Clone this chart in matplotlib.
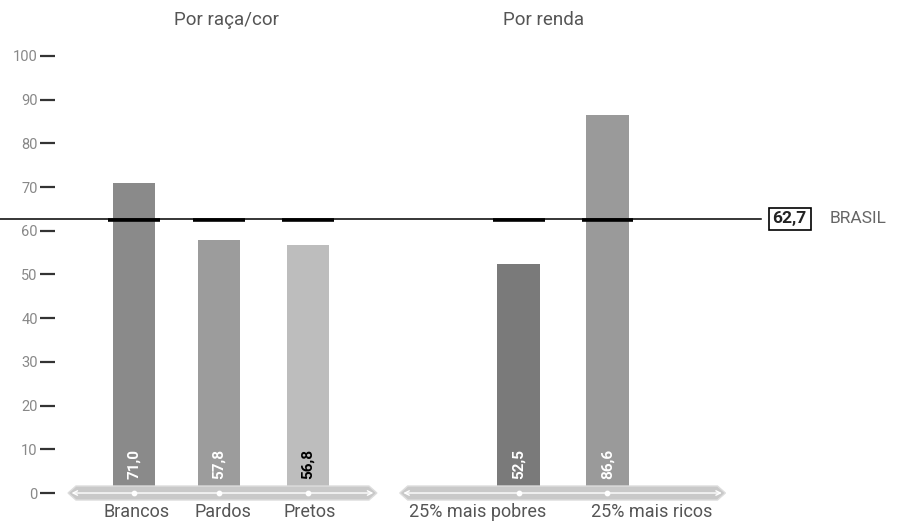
import matplotlib.pyplot as plt
from matplotlib.patches import Polygon

plt.rcParams['font.family'] = ['Roboto', 'DejaVu Sans']

# dados
categorias = ['Brancos', 'Pardos', 'Pretos', '25% mais pobres', '25% mais ricos']
valores = [71.0, 57.8, 56.8, 52.5, 86.6]
rotulos = ['71,0', '57,8', '56,8', '52,5', '86,6']
cores = ['#8a8a8a', '#9c9c9c', '#bdbdbd', '#7a7a7a', '#9a9a9a']
cor_rotulo = ['white', 'white', 'black', 'white', 'white']
posicoes = [0, 0.966, 1.977, 4.37, 5.38]
grupos = ['Por raça/cor', 'Por renda']
brasil = 62.7

# deslocamento horizontal dos nomes longos, para não se sobreporem
desloc = [0.03, 0.04, 0.02, -0.47, 0.5]

fig = plt.figure(figsize=(8.97, 5.24), dpi=100)
ax = fig.add_axes([55 / 897, 0, 1 - 55 / 897, 1])
ax.set_xlim(-0.898, 8.67)
ax.set_ylim(-7.09, 112.8)

# barras
ax.bar(posicoes, valores, width=0.48, color=cores, zorder=2)

# linha da média nacional
ax.plot([-1.523, 7.13], [brasil, brasil], color='black', lw=1.1, clip_on=False, zorder=3)
ax.hlines([brasil - 0.25] * len(posicoes), [p - 0.295 for p in posicoes],
          [p + 0.295 for p in posicoes], color='black', lw=2.6, zorder=4)
ax.text(7.45, brasil, '62,7', ha='center', va='center', fontsize=12.5, fontweight='bold',
        color='#222222',
        bbox=dict(boxstyle='square,pad=0.22', fc='white', ec='black', lw=1.2), zorder=5)
ax.text(7.9, brasil, 'BRASIL', ha='left', va='center', fontsize=12.5, color='#666666')

# faixas com setas sob cada grupo
for x0, x1 in [(-0.75, 2.76), (3.02, 6.72)]:
    d = 0.09
    faixa = Polygon([(x0, 0), (x0 + d, 1.6), (x1 - d, 1.6), (x1, 0), (x1 - d, -1.6), (x0 + d, -1.6)],
                    closed=True, fc='#c9c9c9', ec='#dddddd', lw=1, zorder=5)
    ax.add_patch(faixa)
    ax.annotate('', xy=(x0 + 0.04, 0), xytext=(x1 - 0.04, 0),
                arrowprops=dict(arrowstyle='<->', color='white', lw=1.0,
                                mutation_scale=8, shrinkA=0, shrinkB=0), zorder=6)
ax.scatter(posicoes, [0] * len(posicoes), s=10, color='white', zorder=7)

# rótulos de valor dentro das barras
for p, r, c in zip(posicoes, rotulos, cor_rotulo):
    ax.text(p, 3.3, r, rotation=90, ha='center', va='bottom', fontsize=11,
            fontweight='bold', color=c, zorder=8)

# nomes das categorias
for p, dx, cat in zip(posicoes, desloc, categorias):
    ax.text(p + dx, -4.4, cat, ha='center', va='center', fontsize=13, color='#555555')

# títulos dos grupos
ax.text(1.05, 108.2, grupos[0], ha='center', va='center', fontsize=13.5, color='#555555')
ax.text(4.655, 108.2, grupos[1], ha='center', va='center', fontsize=13.5, color='#555555')

# eixo y
ax.set_yticks(range(0, 101, 10))
ax.tick_params(axis='y', length=11, width=1.6, color='#333333', labelcolor='#888888',
               labelsize=10.5, pad=1.5)
ax.set_xticks([])
for s in ax.spines.values():
    s.set_visible(False)

fig.savefig('out.png', dpi=100)
